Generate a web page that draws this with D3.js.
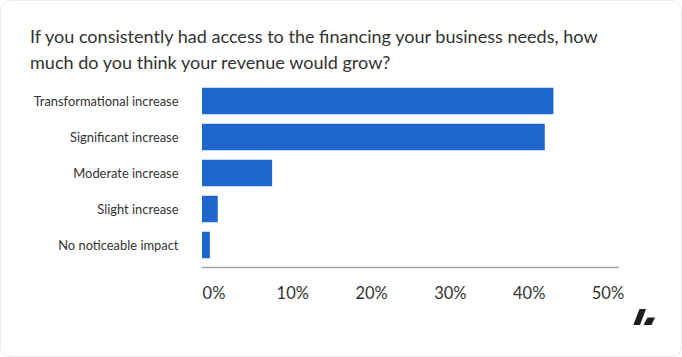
<!DOCTYPE html>
<html>
<head>
<meta charset="utf-8">
<script src="https://cdn.jsdelivr.net/npm/d3@7"></script>
<style>
  html, body { margin: 0; padding: 0; background: #ffffff; }
  svg { display: block; }
  text { font-family: "Lato", "Open Sans", sans-serif; }
</style>
</head>
<body>
<svg id="chart" width="682" height="357"></svg>
<script>
const titleLines = [
  "If you consistently had access to the financing your business needs, how",
  "much do you think your revenue would grow?"
];
const categories = [
  "Transformational increase",
  "Significant increase",
  "Moderate increase",
  "Slight increase",
  "No noticeable impact"
];
const values = [44.6, 43.5, 8.9, 2.0, 1.0];
const tickValues = [0, 10, 20, 30, 40, 50];
const tickLabels = ["0%", "10%", "20%", "30%", "40%", "50%"];

const svg = d3.select("#chart");

// card
svg.append("rect")
  .attr("x", 0.5).attr("y", 0.5)
  .attr("width", 681).attr("height", 356)
  .attr("rx", 10).attr("ry", 10)
  .attr("fill", "#ffffff")
  .attr("stroke", "#ebebeb");

// title
const title = svg.append("g");
titleLines.forEach((t, i) => {
  const el = title.append("text")
    .attr("x", 30).attr("y", 43.3 + i * 25.5)
    .attr("fill", "#333333")
    .attr("font-size", 18)
    .text(t);
  if (i === 0) {
    const w = el.node().getComputedTextLength();
    const fs = 18 * 568 / w;
    title.selectAll("text").attr("font-size", fs);
  } else {
    el.attr("font-size", title.select("text").attr("font-size"));
  }
});

const x = d3.scaleLinear().domain([0, 52.92]).range([202, 619]);
const y = d3.scaleBand().domain(categories).range([83, 263])
  .paddingInner(0.264).paddingOuter(0.132);

// bars
svg.append("g").selectAll("rect")
  .data(values)
  .join("rect")
  .attr("x", x(0))
  .attr("y", (d, i) => y(categories[i]))
  .attr("width", d => x(d) - x(0))
  .attr("height", y.bandwidth())
  .attr("fill", "#1f66cf");

// category labels
const labG = svg.append("g");
labG.selectAll("text")
  .data(categories)
  .join("text")
  .attr("x", 178.5)
  .attr("y", d => y(d) + y.bandwidth() / 2)
  .attr("dy", "0.35em")
  .attr("text-anchor", "end")
  .attr("fill", "#333333")
  .attr("font-size", 12)
  .text(d => d);
{
  const w = labG.select("text").node().getComputedTextLength();
  labG.selectAll("text").attr("font-size", 12 * 145 / w);
}

// axis
const axisG = svg.append("g").attr("transform", "translate(0,267.5)");
axisG.call(d3.axisBottom(x).tickValues(tickValues).tickSize(0)
  .tickFormat((d, i) => tickLabels[i]));
axisG.select(".domain").attr("stroke", "#a5a5a5").attr("stroke-width", 1.3)
  .attr("d", `M${x.range()[0]},0H${x.range()[1]}`);
axisG.selectAll(".tick text")
  .attr("x", 11.5)
  .attr("y", 31.5)
  .attr("dy", 0)
  .attr("fill", "#333333")
  .attr("font-size", 16.5)
  .attr("font-family", "Lato, 'Open Sans', sans-serif");

// logo
const logo = svg.append("g").attr("fill", "#1d1d1f");
logo.append("path").attr("d", "M639.5,309 L646,309 L640,325 L633.3,325 Z");
logo.append("path").attr("d", "M647.5,317.5 L655,317.5 L651.5,325 L643.5,325 Z");
</script>
</body>
</html>
